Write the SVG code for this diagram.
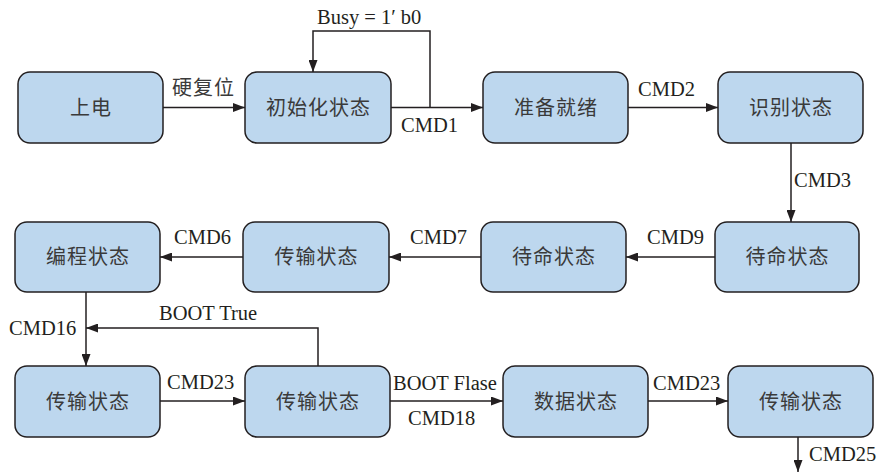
<svg xmlns="http://www.w3.org/2000/svg" width="879" height="472" viewBox="0 0 879 472">
<defs>
<marker id="arr" markerUnits="userSpaceOnUse" markerWidth="13" markerHeight="9" refX="12" refY="4.5" orient="auto">
<path d="M0,0 L12,4.5 L0,9 z" fill="#231f20"/>
</marker>
<style>
.box{fill:#bdd7ee;stroke:#231f20;stroke-width:1.5}
.cn{font-family:"Noto Sans CJK SC","Noto Sans",sans-serif;font-size:20px;letter-spacing:1px;fill:#3a3a3a;text-anchor:middle}
.lb{font-family:"Liberation Serif","Noto Sans CJK SC",serif;font-size:20.5px;fill:#231f20}
.ln{fill:none;stroke:#231f20;stroke-width:1.5}
.ar{marker-end:url(#arr)}
</style>
</defs>
<rect width="879" height="472" fill="#fff"/>
<g id="n1"><rect class="box" x="18" y="72" width="145" height="71" rx="12"/><text class="cn" x="91" y="115">上电</text></g>
<g id="n2"><rect class="box" x="245" y="72" width="146" height="71" rx="12"/><text class="cn" x="318.5" y="115">初始化状态</text></g>
<g id="n3"><rect class="box" x="483" y="72" width="145" height="71" rx="12"/><text class="cn" x="556" y="115">准备就绪</text></g>
<g id="n4"><rect class="box" x="718" y="72" width="145" height="71" rx="12"/><text class="cn" x="791" y="115">识别状态</text></g>
<g id="n5"><rect class="box" x="715" y="222" width="144" height="70" rx="12"/><text class="cn" x="787.5" y="264">待命状态</text></g>
<g id="n6"><rect class="box" x="481" y="222" width="145" height="70" rx="12"/><text class="cn" x="554" y="264">待命状态</text></g>
<g id="n7"><rect class="box" x="243" y="222" width="146" height="70" rx="12"/><text class="cn" x="316.5" y="264">传输状态</text></g>
<g id="n8"><rect class="box" x="15" y="222" width="145" height="70" rx="12"/><text class="cn" x="88" y="264">编程状态</text></g>
<g id="n9"><rect class="box" x="15" y="366" width="145" height="71" rx="12"/><text class="cn" x="88" y="409">传输状态</text></g>
<g id="n10"><rect class="box" x="245" y="366" width="145" height="71" rx="12"/><text class="cn" x="318" y="409">传输状态</text></g>
<g id="n11"><rect class="box" x="503" y="366" width="145" height="71" rx="12"/><text class="cn" x="576" y="409">数据状态</text></g>
<g id="n12"><rect class="box" x="728" y="366" width="145" height="71" rx="12"/><text class="cn" x="801" y="409">传输状态</text></g>
<g id="connectors">
<path class="ln ar" d="M163,107.5 H245"/>
<text class="cn" x="203.5" y="95">硬复位</text>
<path class="ln ar" d="M430,107.5 V31 H313 V72"/>
<text class="lb" x="317" y="24">Busy = 1′ b0</text>
<path class="ln ar" d="M391,107.5 H483"/>
<text class="lb" x="401" y="132">CMD1</text>
<path class="ln ar" d="M628,107.5 H718"/>
<text class="lb" x="638" y="96">CMD2</text>
<path class="ln ar" d="M791,143 V222"/>
<text class="lb" x="794" y="187">CMD3</text>
<path class="ln ar" d="M715,257 H626"/>
<text class="lb" x="647" y="244">CMD9</text>
<path class="ln ar" d="M481,257 H389"/>
<text class="lb" x="410" y="244">CMD7</text>
<path class="ln ar" d="M243,257 H160"/>
<text class="lb" x="174" y="244">CMD6</text>
<path class="ln ar" d="M86,292 V366"/>
<text class="lb" x="9" y="335">CMD16</text>
<path class="ln ar" d="M318,366 V328 H86"/>
<text class="lb" x="159" y="320">BOOT True</text>
<path class="ln ar" d="M160,401 H245"/>
<text class="lb" x="167" y="389">CMD23</text>
<path class="ln ar" d="M390,401 H503"/>
<text class="lb" x="393" y="390">BOOT Flase</text>
<text class="lb" x="408" y="425">CMD18</text>
<path class="ln ar" d="M648,401 H728"/>
<text class="lb" x="653" y="390">CMD23</text>
<path class="ln ar" d="M798,437 V472"/>
<text class="lb" x="809" y="461">CMD25</text>
</g>
</svg>
